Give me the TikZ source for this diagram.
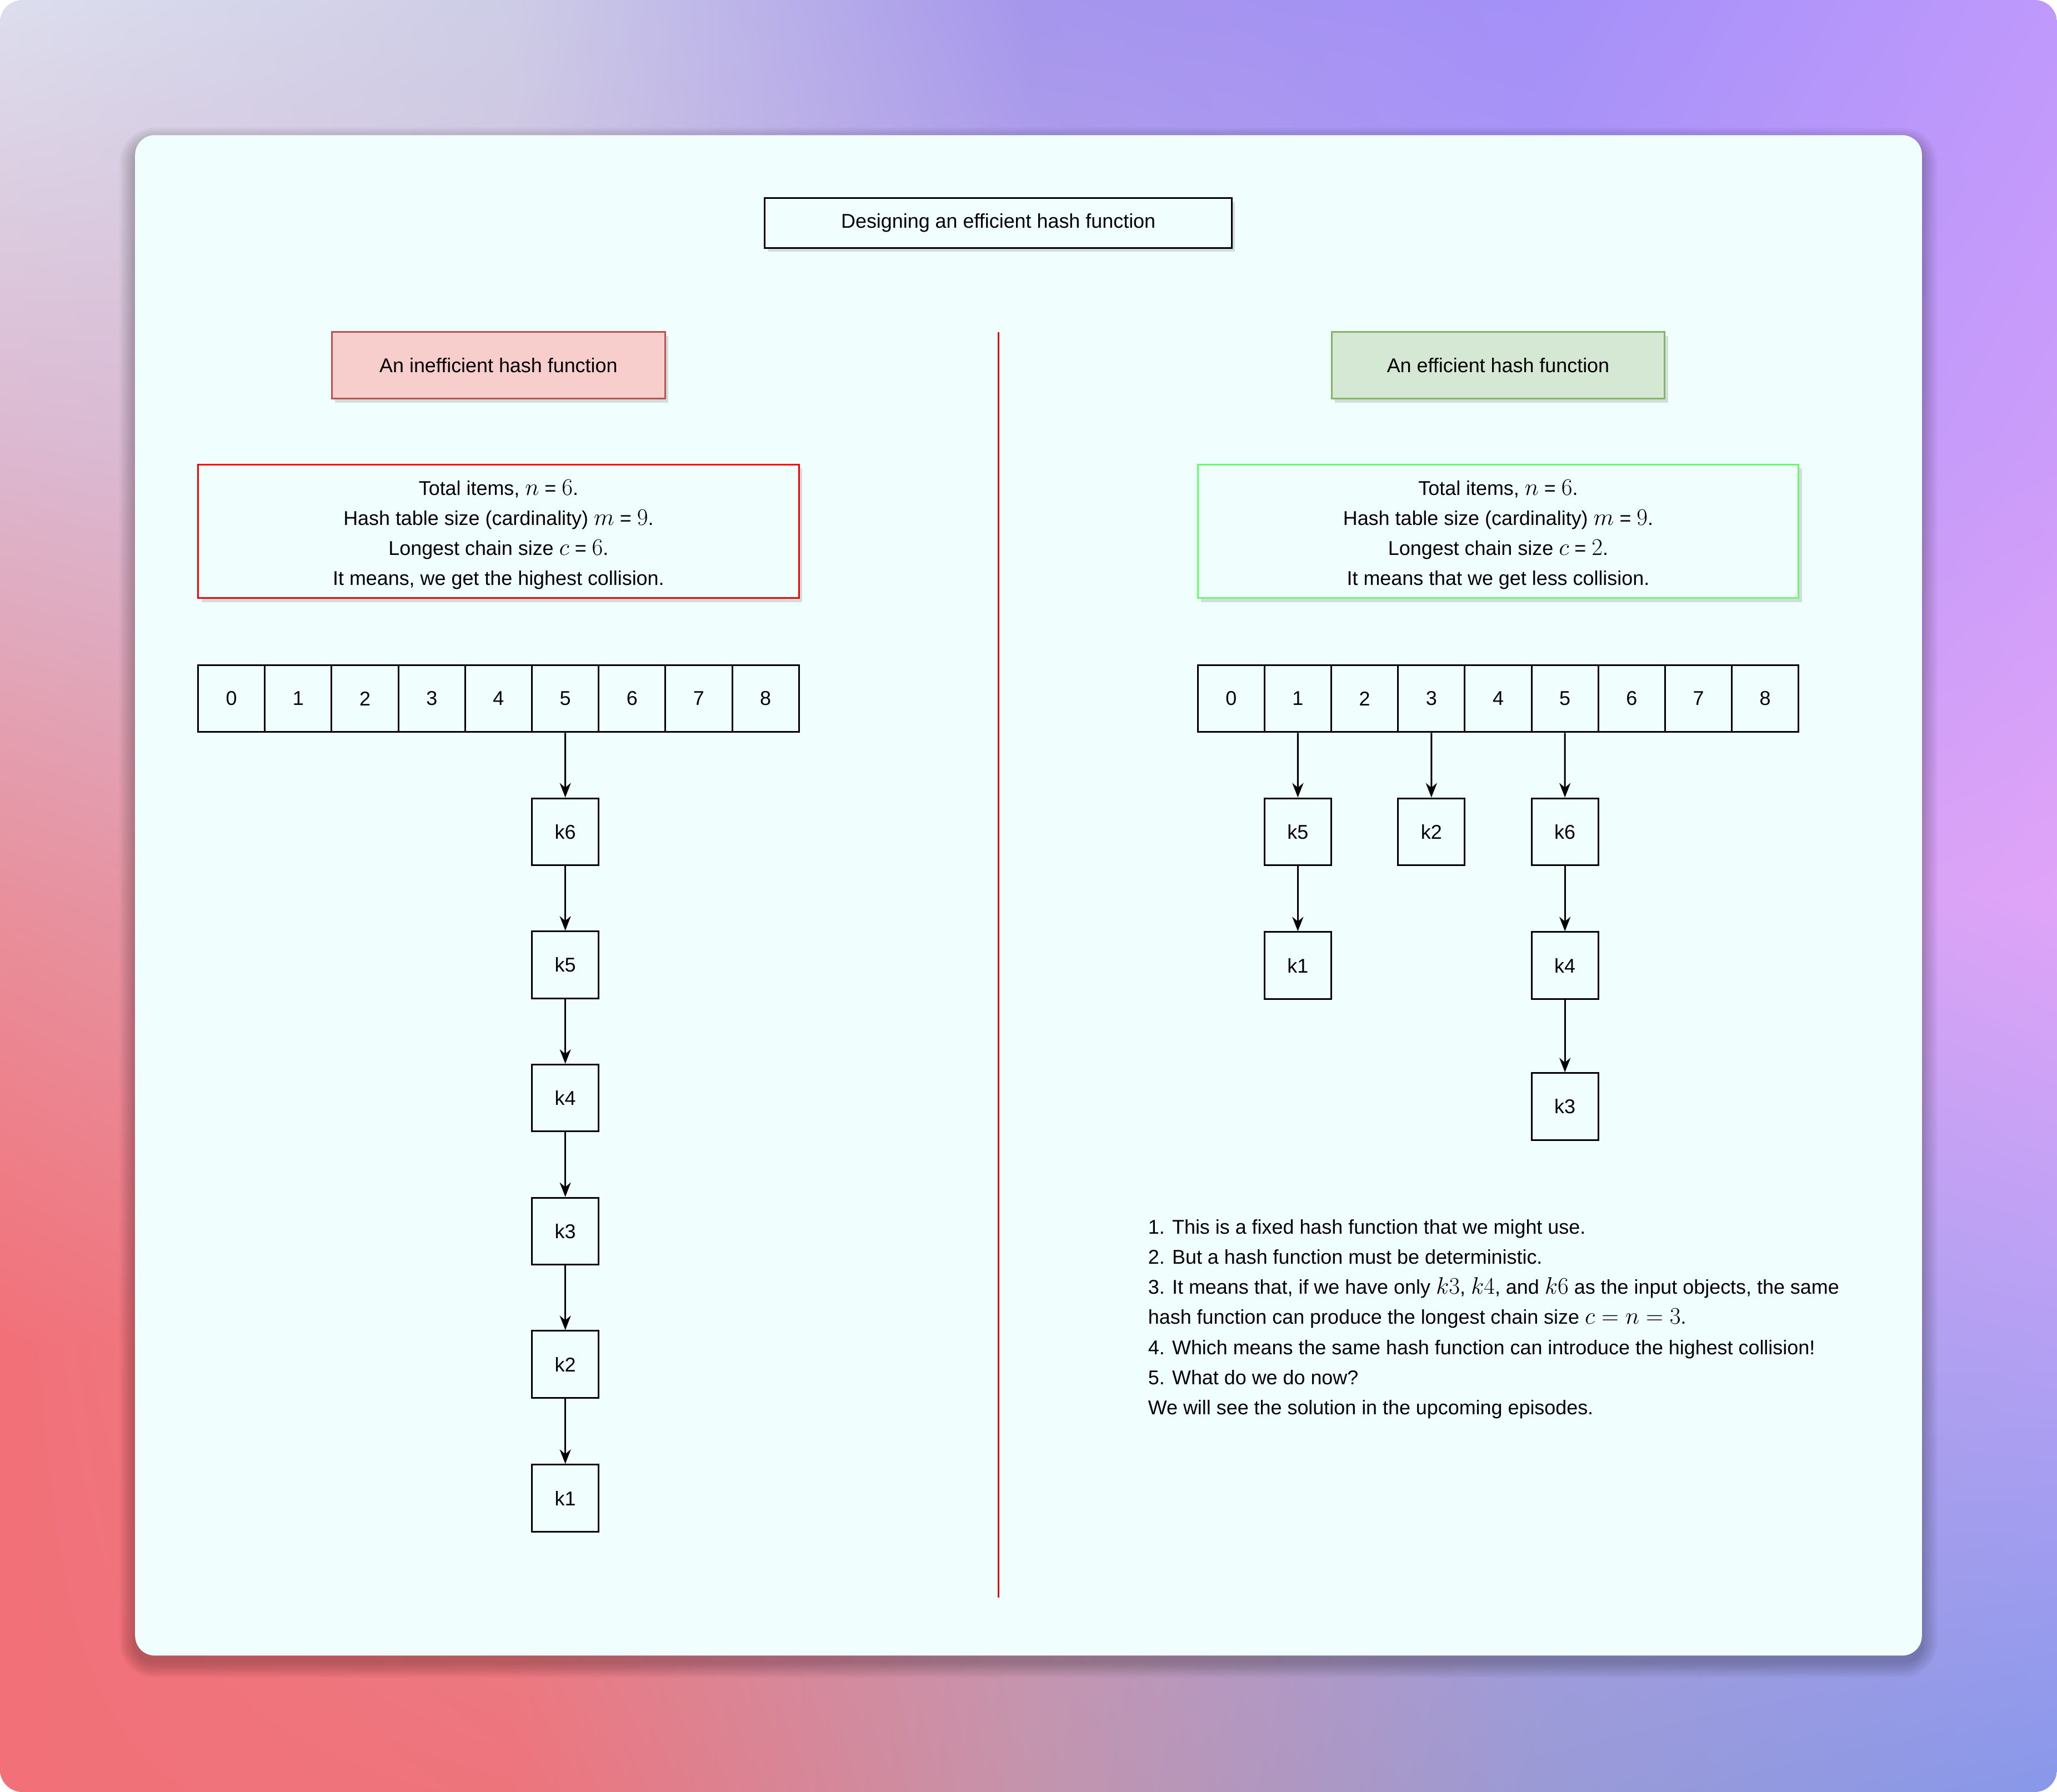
\RequirePackage{fix-cm}
\documentclass[tikz,border=0pt]{standalone}
\usepackage[no-math]{fontspec}
\setmainfont{Liberation Sans}
\usetikzlibrary{arrows.meta,shadows,shadings}

\definecolor{c00}{HTML}{DCDEEE}\definecolor{c01}{HTML}{CDCCE6}\definecolor{c02}{HTML}{A696EC}\definecolor{c03}{HTML}{A490F8}\definecolor{c04}{HTML}{BF99FC}
\definecolor{c10}{HTML}{DCB8D0}\definecolor{c11}{HTML}{D4C0DC}\definecolor{c12}{HTML}{B8A8E8}\definecolor{c13}{HTML}{B098F6}\definecolor{c14}{HTML}{CC9CFA}
\definecolor{c20}{HTML}{E8909C}\definecolor{c21}{HTML}{E0A0B8}\definecolor{c22}{HTML}{C8A0D8}\definecolor{c23}{HTML}{C8A0F0}\definecolor{c24}{HTML}{E0A4F8}
\definecolor{c30}{HTML}{F27078}\definecolor{c31}{HTML}{E8848C}\definecolor{c32}{HTML}{C898B8}\definecolor{c33}{HTML}{A8A0E4}\definecolor{c34}{HTML}{B4A0F4}
\definecolor{c40}{HTML}{F27078}\definecolor{c41}{HTML}{EE747C}\definecolor{c42}{HTML}{C494AC}\definecolor{c43}{HTML}{9A9AD6}\definecolor{c44}{HTML}{8898EA}

\definecolor{cardbg}{HTML}{F0FFFE}
\definecolor{redfill}{HTML}{F8CECC}\definecolor{redline}{HTML}{B85450}
\definecolor{greenfill}{HTML}{D5E8D4}\definecolor{greenline}{HTML}{82B366}
\definecolor{infored}{HTML}{FF0000}\definecolor{infogreen}{HTML}{66FF66}
\definecolor{divred}{HTML}{DD1111}

% math set a little larger, as the reference's math renderer does
\newcommand\mth[1]{{\fontsize{18.2}{22.9}\selectfont$#1$}}

% patch: row, col (colour indices), x0, y0, x1, y1
\newcommand\bgpatch[6]{%
  \pgfmathtruncatemacro\rb{#1+1}\pgfmathtruncatemacro\cb{#2+1}%
  \edef\pul{c#1#2}\edef\pur{c#1\cb}\edef\pll{c\rb#2}\edef\plr{c\rb\cb}%
  \colorlet{bgul}{\pul}\colorlet{bgur}{\pur}\colorlet{bgll}{\pll}\colorlet{bglr}{\plr}%
  \shade[upper left=bgul, upper right=bgur, lower left=bgll, lower right=bglr]
    (#3-0.6,#4-0.6) rectangle (#5+0.6,#6+0.6);}

\tikzset{
  txt/.style={font=\fontsize{15.2}{22.9}\selectfont, text=black},
  boxline/.style={line width=1.25pt},
  cell/.style={txt, draw=black, boxline, fill=cardbg, minimum width=50.9pt, minimum height=51pt, inner sep=0pt},
  kbox/.style={cell},
  link/.style={draw=black, line width=1.25pt, -{Stealth[length=11pt,width=8.5pt,inset=3.5pt]}},
  softshadow/.style={drop shadow={shadow xshift=2.5pt, shadow yshift=-3pt, opacity=0.18, fill=black!70}},
  titlebox/.style={txt, draw=black, boxline, fill=cardbg, minimum width=356pt, minimum height=38pt, inner sep=0pt, softshadow},
  headred/.style={txt, draw=redline, boxline, fill=redfill, minimum width=254pt, minimum height=51pt, inner sep=0pt, softshadow},
  headgreen/.style={txt, draw=greenline, boxline, fill=greenfill, minimum width=254pt, minimum height=51pt, inner sep=0pt, softshadow},
  infored/.style={draw=infored, boxline, fill=cardbg, minimum width=458pt, minimum height=102pt, inner sep=0pt, softshadow},
  infogreen/.style={draw=infogreen, boxline, fill=cardbg, minimum width=458pt, minimum height=102pt, inner sep=0pt, softshadow},
  infotext/.style={txt, align=center, inner sep=0pt},
  divider/.style={draw=divred, line width=1.25pt},
}

\begin{document}
\begin{tikzpicture}[x=1pt,y=-1pt]
\useasboundingbox (0,0) rectangle (1568,1366);
\fill[white] (0,0) rectangle (1568,1366);

% background gradient
\begin{scope}
\clip[rounded corners=17pt] (0,0) rectangle (1568,1366);
\foreach \r/\ya/\yb in {0/0/341.5, 1/341.5/683, 2/683/1024.5, 3/1024.5/1366}{
  \foreach \c/\xa/\xb in {0/0/392, 1/392/784, 2/784/1176, 3/1176/1568}{
    \bgpatch{\r}{\c}{\xa}{\ya}{\xb}{\yb}
  }
}
% card shadow
\foreach \i in {1,...,12}{
  \fill[black, opacity=0.02, rounded corners=15pt+\i pt] (103-\i,103-\i+6) rectangle (1465+\i,1262+\i+5);
}
\end{scope}

% card
\fill[cardbg, rounded corners=15pt] (103,103) rectangle (1465,1262);

% title
\node[titlebox] (title) at (761,170) {Designing an efficient hash function};

% divider
\coordinate (dtop) at (761,253);
\coordinate (dbot) at (761,1218);
\draw[divider] (dtop) -- (dbot);

% headers
\node[headred] (hleft) at (380,278.5) {An inefficient hash function};
\node[headgreen] (hright) at (1142,278.5) {An efficient hash function};

% info boxes
\node[infored] (ileft) at (380,405) {};
\node[infotext] (ilefttext) at (380,407.5) {Total items, \mth{n} = \mth{6}.\\Hash table size (cardinality) \mth{m} = \mth{9}.\\Longest chain size \mth{c} = \mth{6}.\\It means, we get the highest collision.};
\node[infogreen] (iright) at (1142,405) {};
\node[infotext] (irighttext) at (1142,407.5) {Total items, \mth{n} = \mth{6}.\\Hash table size (cardinality) \mth{m} = \mth{9}.\\Longest chain size \mth{c} = \mth{2}.\\It means that we get less collision.};

% arrays
\foreach \i in {0,...,8}{
  \node[cell] (L\i) at ({151+50.889*(\i+0.5)},532.5) {\i};
  \node[cell] (R\i) at ({913+50.889*(\i+0.5)},532.5) {\i};
}

% left chain
\node[kbox] (Lk6) at (430.9,634) {k6};
\node[kbox] (Lk5) at (430.9,735.5) {k5};
\node[kbox] (Lk4) at (430.9,837) {k4};
\node[kbox] (Lk3) at (430.9,938.5) {k3};
\node[kbox] (Lk2) at (430.9,1040) {k2};
\node[kbox] (Lk1) at (430.9,1142) {k1};
\draw[link] (L5) -- (Lk6);
\draw[link] (Lk6) -- (Lk5);
\draw[link] (Lk5) -- (Lk4);
\draw[link] (Lk4) -- (Lk3);
\draw[link] (Lk3) -- (Lk2);
\draw[link] (Lk2) -- (Lk1);

% right chains
\node[kbox] (Rk5) at (989.3,634) {k5};
\node[kbox] (Rk1) at (989.3,736) {k1};
\node[kbox] (Rk2) at (1091.1,634) {k2};
\node[kbox] (Rk6) at (1192.9,634) {k6};
\node[kbox] (Rk4) at (1192.9,736) {k4};
\node[kbox] (Rk3) at (1192.9,843.5) {k3};
\draw[link] (R1) -- (Rk5);
\draw[link] (Rk5) -- (Rk1);
\draw[link] (R3) -- (Rk2);
\draw[link] (R5) -- (Rk6);
\draw[link] (Rk6) -- (Rk4);
\draw[link] (Rk4) -- (Rk3);

% notes
\node[txt, align=left, anchor=west, inner sep=0pt] (notes) at (875,1005.5) {%
1. This is a fixed hash function that we might use.\\
2. But a hash function must be deterministic.\\
3. It means that, if we have only \mth{k3}, \mth{k4}, and \mth{k6} as the input objects, the same\\
hash function can produce the longest chain size \mth{c = n = 3}.\\
4. Which means the same hash function can introduce the highest collision!\\
5. What do we do now?\\
We will see the solution in the upcoming episodes.};
\end{tikzpicture}
\end{document}
